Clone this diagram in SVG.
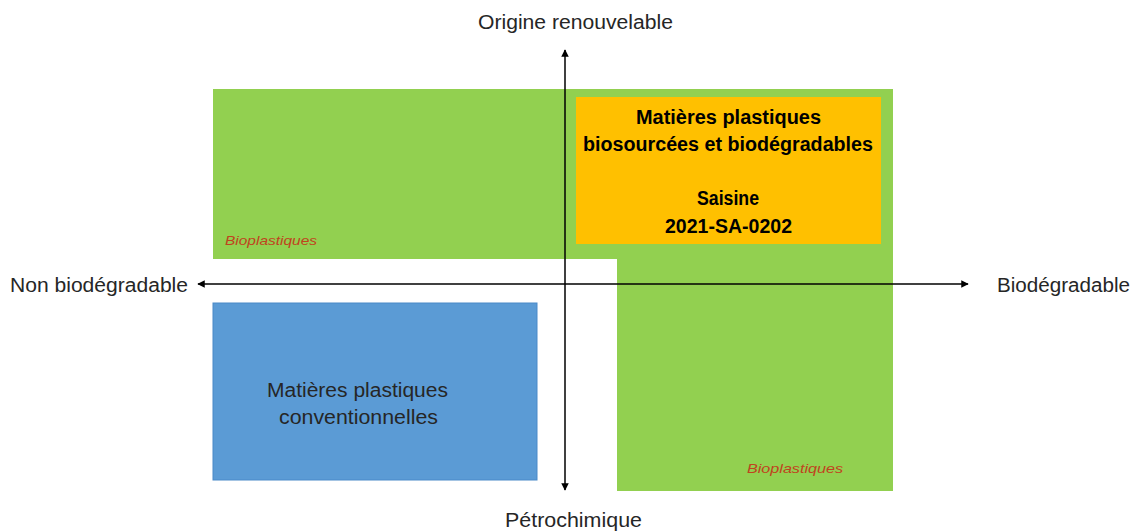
<svg xmlns="http://www.w3.org/2000/svg" width="1133" height="531" viewBox="0 0 1133 531">
<style>
.lbl{font-family:"Liberation Sans",Arial,sans-serif;font-size:20px;fill:#262626}
.bold{font-family:"Liberation Sans",Arial,sans-serif;font-size:19.5px;font-weight:bold;fill:#000}
.bio{font-family:"Liberation Sans",Arial,sans-serif;font-size:13.5px;font-style:italic;fill:#C0431E}
.axis{stroke:#000;stroke-width:1.5;fill:none}
</style>
<defs>
<marker id="ah" viewBox="0 0 10 10" refX="9" refY="5" markerWidth="5" markerHeight="5" orient="auto-start-reverse" markerUnits="strokeWidth">
<path d="M0,0 L10,5 L0,10 z" fill="#000"/>
</marker>
</defs>
<g id="bioplastiques-zone">
<path d="M213,89 H893 V491 H617 V259 H213 Z" fill="#92D050"/>
<text class="bio" x="225" y="245" textLength="92" lengthAdjust="spacingAndGlyphs">Bioplastiques</text>
<text class="bio" x="747" y="473" textLength="96" lengthAdjust="spacingAndGlyphs">Bioplastiques</text>
</g>
<g id="conventionnelles">
<rect x="213" y="303" width="324" height="177" fill="#5B9BD5" stroke="#4A89C8" stroke-width="1"/>
<text class="lbl" x="357.5" y="397" text-anchor="middle" textLength="181" lengthAdjust="spacingAndGlyphs">Matières plastiques</text>
<text class="lbl" x="358.5" y="424" text-anchor="middle" textLength="159" lengthAdjust="spacingAndGlyphs">conventionnelles</text>
</g>
<g id="connectors">
<line class="axis" x1="565" y1="490" x2="565" y2="50" marker-end="url(#ah)" marker-start="url(#ah)"/>
<line class="axis" x1="198" y1="284" x2="968" y2="284" marker-end="url(#ah)" marker-start="url(#ah)"/>
</g>
<g id="saisine">
<rect x="576" y="97" width="305" height="147" fill="#FFC000"/>
<text class="bold" x="728.5" y="124" text-anchor="middle" textLength="185" lengthAdjust="spacingAndGlyphs">Matières plastiques</text>
<text class="bold" x="728" y="151" text-anchor="middle" textLength="290" lengthAdjust="spacingAndGlyphs">biosourcées et biodégradables</text>
<text class="bold" x="728" y="205" text-anchor="middle" textLength="62" lengthAdjust="spacingAndGlyphs">Saisine</text>
<text class="bold" x="728.5" y="233" text-anchor="middle" textLength="127" lengthAdjust="spacingAndGlyphs">2021-SA-0202</text>
</g>
<g id="axis-labels">
<text class="lbl" x="575.5" y="29" text-anchor="middle" textLength="195" lengthAdjust="spacingAndGlyphs">Origine renouvelable</text>
<text class="lbl" x="99" y="292" text-anchor="middle" textLength="178" lengthAdjust="spacingAndGlyphs">Non biodégradable</text>
<text class="lbl" x="1063.5" y="292" text-anchor="middle" textLength="133" lengthAdjust="spacingAndGlyphs">Biodégradable</text>
<text class="lbl" x="573.5" y="527" text-anchor="middle" textLength="137" lengthAdjust="spacingAndGlyphs">Pétrochimique</text>
</g>
</svg>
